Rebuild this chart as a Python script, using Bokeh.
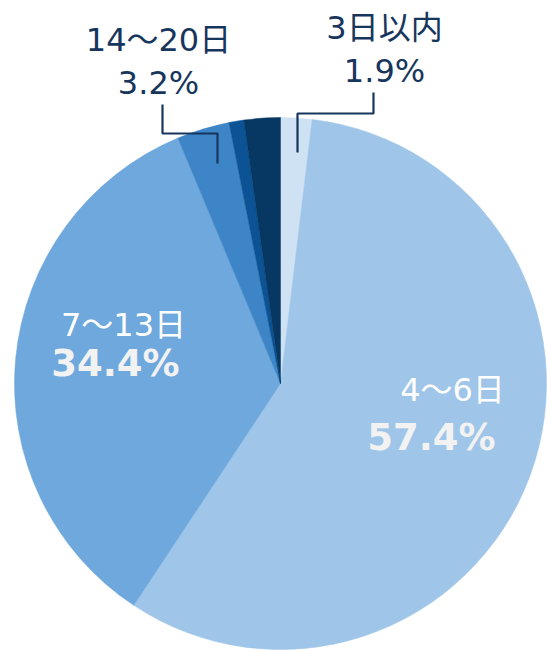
import numpy as np
from bokeh.plotting import figure
from bokeh.models import Range1d, ColumnDataSource
from bokeh.core.properties import value
from bokeh.embed import file_html
from bokeh.resources import INLINE

# ---- data ----
categories = ["3日以内", "4〜6日", "7〜13日", "14〜20日", "21〜27日", "28日以上"]
shares = [1.9, 57.4, 34.4, 3.2, 0.9, 2.2]
colors = ["#cfe2f3", "#9fc5e8", "#6fa8dc", "#3d85c6", "#0b5394", "#073763"]
pct_labels = ["1.9%", "57.4%", "34.4%", "3.2%"]

W, H = 547, 651
p = figure(width=W, height=H, output_backend="svg", toolbar_location=None,
           x_range=Range1d(0, W), y_range=Range1d(0, H), min_border=0,
           outline_line_color=None, background_fill_color="white")
p.axis.visible = False
p.grid.visible = False

vals = np.array(shares, dtype=float)
frac = vals / vals.sum()
cum_end = np.cumsum(frac)
cum_start = cum_end - frac
start = np.pi / 2 - cum_start * 2 * np.pi
end = np.pi / 2 - cum_end * 2 * np.pi

src = ColumnDataSource(dict(cat=categories, start=start, end=end, color=colors))
CX, CY, R = 280, 268, 266
p.wedge(x=CX, y=CY, radius=R, start_angle="start", end_angle="end",
        direction="clock", fill_color="color", line_color="color", line_width=0.5,
        source=src)

FONT = value("DejaVu Sans, Noto Sans CJK JP")
DARK = "#17365d"

# outside labels
p.text(x=[384, 158], y=[624, 612], text=[categories[0], categories[3]],
       text_font=FONT, text_font_size="32px", text_color=DARK,
       text_align="center", text_baseline="alphabetic")
p.text(x=[384, 158], y=[581, 569], text=[pct_labels[0], pct_labels[3]],
       text_font=FONT, text_font_size="32px", text_color=DARK,
       text_align="center", text_baseline="alphabetic")

# inside labels
p.text(x=[123, 452], y=[327, 262], text=[categories[2], categories[1]],
       text_font=FONT, text_font_size="32px", text_color="white",
       text_align="center", text_baseline="alphabetic")
p.text(x=[115, 431], y=[288, 214], text=[pct_labels[2], pct_labels[1]],
       text_font=FONT, text_font_size="37px", text_font_style="bold",
       text_color="#f2f2f2", text_align="center", text_baseline="alphabetic")

# leader lines
p.multi_line(xs=[[297, 297, 373, 373], [217, 217, 162, 162]],
             ys=[[499, 538, 538, 559], [488, 518, 518, 547]],
             line_color=DARK, line_width=2.2)

open("out.html", "w").write(file_html(p, INLINE))
